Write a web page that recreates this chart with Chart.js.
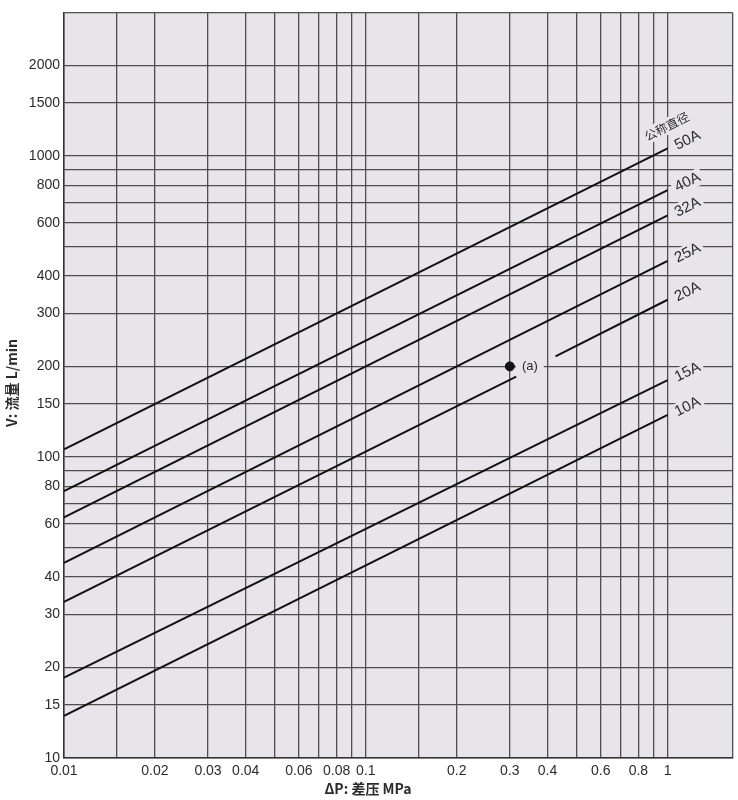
<!DOCTYPE html>
<html>
<head>
<meta charset="utf-8">
<script src="https://cdn.jsdelivr.net/npm/chart.js@4.4.1/dist/chart.umd.min.js"></script>
<style>
    body { margin: 0; background: #fff; }
    canvas { display: block; }
</style>
</head>
<body>
<canvas id="flowChart" width="738" height="800"></canvas>
<script>
// nominal sizes, flow at 0.01 MPa and at 1 MPa
const sizeNames = ['50A', '40A', '32A', '25A', '20A', '15A', '10A'];
const pressureEnds = [0.01, 1];
const flowLow = [106, 77, 63, 44.5, 33, 18.5, 13.8];
const flowHigh = [1060, 770, 635, 448, 333, 180, 138];

// the 20A line is broken around the (a) note
const gapPressure = [0.315, 0.425];
const gapFlow = [185, 216];

// example point (a)
const pointA = [{x: 0.3, y: 200}];

const xMin = 0.01, xMax = 1.64;
const yMin = 10, yMax = 3000;
const xGrid = [0.01, 0.015, 0.02, 0.03, 0.04, 0.05, 0.06, 0.07, 0.08, 0.09, 0.1,
    0.15, 0.2, 0.3, 0.4, 0.5, 0.6, 0.7, 0.8, 0.9, 1];
const xLabels = [0.01, 0.02, 0.03, 0.04, 0.06, 0.08, 0.1, 0.2, 0.3, 0.4, 0.6, 0.8, 1];
const yGrid = [10, 15, 20, 30, 40, 50, 60, 70, 80, 90, 100, 150, 200, 300, 400,
    500, 600, 700, 800, 900, 1000, 1500, 2000];
const yLabels = [10, 15, 20, 30, 40, 60, 80, 100, 150, 200, 300, 400, 600, 800, 1000, 1500, 2000];

const plotBg = '#e7e5e9';
const textColor = '#2b2b2b';

function buildDatasets() {
    const sets = sizeNames.map((name, i) => {
        let data = [
            {x: pressureEnds[0], y: flowLow[i]},
            {x: pressureEnds[1], y: flowHigh[i]}
        ];
        if (name === '20A') {
            data = [
                {x: pressureEnds[0], y: flowLow[i]},
                {x: gapPressure[0], y: gapFlow[0]},
                {x: gapPressure[0] + 0.001, y: null},
                {x: gapPressure[1], y: gapFlow[1]},
                {x: pressureEnds[1], y: flowHigh[i]}
            ];
        }
        return {
            label: name,
            data: data,
            borderColor: '#111',
            borderWidth: 2,
            pointRadius: 0,
            spanGaps: false,
            tension: 0
        };
    });
    sets.push({
        label: '(a)',
        data: pointA,
        showLine: false,
        pointRadius: 4.5,
        pointBackgroundColor: '#111',
        pointBorderColor: '#111'
    });
    return sets;
}

const plotBackground = {
    id: 'plotBackground',
    beforeDraw(chart) {
        const {ctx, chartArea: a} = chart;
        ctx.save();
        ctx.fillStyle = plotBg;
        ctx.fillRect(a.left, a.top, a.right - a.left, a.bottom - a.top);
        ctx.restore();
    }
};

// rotated size labels, drawn with a plot-coloured box that cuts the grid
function boxedText(ctx, text, x, y, angle, font, padX, padY) {
    ctx.save();
    ctx.translate(x, y);
    ctx.rotate(angle);
    ctx.font = font;
    const w = ctx.measureText(text).width;
    const h = parseInt(font.match(/(\d+)px/)[1], 10);
    ctx.fillStyle = plotBg;
    ctx.fillRect(-w / 2 - padX, -h / 2 - padY, w + padX * 2, h + padY * 2);
    ctx.fillStyle = textColor;
    ctx.textAlign = 'center';
    ctx.textBaseline = 'middle';
    ctx.fillText(text, 0, 0);
    ctx.restore();
}

const sizeLabels = {
    id: 'sizeLabels',
    beforeDatasetsDraw(chart) {
        const {ctx, scales: {x, y}} = chart;
        sizeNames.forEach((name, i) => {
            const x0 = x.getPixelForValue(pressureEnds[0]);
            const y0 = y.getPixelForValue(flowLow[i]);
            const x1 = x.getPixelForValue(pressureEnds[1]);
            const y1 = y.getPixelForValue(flowHigh[i]);
            const angle = Math.atan2(y1 - y0, x1 - x0);
            boxedText(ctx, name, x1 + 20, y1 - 8, angle, '15px "Liberation Sans", Arial, sans-serif', 3, 1);
            if (i === 0) {
                boxedText(ctx, '公称直径', x1 - 1, y1 - 22, angle, '12px "Noto Sans CJK SC", sans-serif', 2, 2);
            }
        });
        const px = x.getPixelForValue(pointA[0].x);
        const py = y.getPixelForValue(pointA[0].y);
        boxedText(ctx, '(a)', px + 20, py, 0, '13px "Liberation Sans", Arial, sans-serif', 6, 3);
    },
    afterDraw(chart) {
        const {ctx} = chart;
        ctx.save();
        ctx.fillStyle = textColor;
        ctx.font = 'bold 14px "Noto Sans CJK SC", sans-serif';
        ctx.textAlign = 'center';
        ctx.textBaseline = 'middle';
        ctx.fillText('ΔP: 差压 MPa', 368, 789);
        ctx.translate(12, 383);
        ctx.rotate(-Math.PI / 2);
        ctx.fillText('V: 流量 L/min', 0, 0);
        ctx.restore();
    }
};

const ctx = document.getElementById('flowChart').getContext('2d');
new Chart(ctx, {
    type: 'line',
    data: { datasets: buildDatasets() },
    options: {
        responsive: false,
        animation: false,
        devicePixelRatio: 1,
        layout: { padding: { top: 9, right: 5, left: 0, bottom: 0 } },
        plugins: {
            legend: { display: false },
            tooltip: { enabled: false }
        },
        scales: {
            x: {
                type: 'logarithmic',
                min: xMin,
                max: xMax,
                afterBuildTicks: scale => {
                    scale.ticks = xGrid.concat([xMax]).map(v => ({value: v}));
                },
                afterFit: scale => { scale.height = 42; },
                ticks: {
                    autoSkip: false,
                    maxRotation: 0,
                    minRotation: 0,
                    padding: 5,
                    color: textColor,
                    font: { family: '"Liberation Sans", Arial, sans-serif', size: 14 },
                    callback: value => xLabels.includes(value) ? String(value) : ''
                },
                grid: { color: '#4e4e4e', lineWidth: 1.3, drawTicks: false },
                border: { color: '#333', width: 1.5 }
            },
            y: {
                type: 'logarithmic',
                min: yMin,
                max: yMax,
                afterBuildTicks: scale => {
                    scale.ticks = yGrid.concat([yMax]).map(v => ({value: v}));
                },
                afterFit: scale => { scale.width = 64; },
                ticks: {
                    autoSkip: false,
                    padding: 4,
                    color: textColor,
                    font: { family: '"Liberation Sans", Arial, sans-serif', size: 14 },
                    callback: value => yLabels.includes(value) ? String(value) : ''
                },
                grid: { color: '#4e4e4e', lineWidth: 1.3, drawTicks: false },
                border: { color: '#333', width: 1.5 }
            }
        }
    },
    plugins: [plotBackground, sizeLabels]
});
</script>
</body>
</html>
